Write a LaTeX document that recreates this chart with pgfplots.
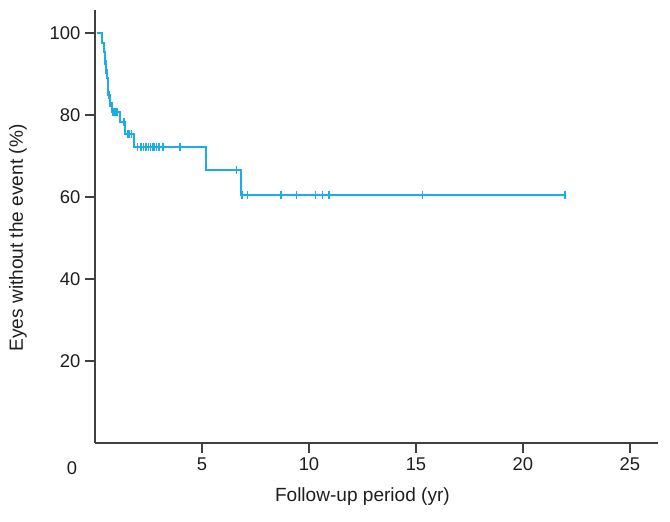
\documentclass[border=0pt]{standalone}
\usepackage{pgfplots}
\pgfplotsset{compat=1.18}
\usepackage{fontspec}
\setmainfont{Liberation Sans}
\definecolor{km}{RGB}{28,172,230}
\definecolor{txt}{RGB}{30,30,30}
\begin{document}
\begin{tikzpicture}
\useasboundingbox (-71.25pt,-58.5pt) rectangle (431.25pt,332.25pt);
\begin{axis}[
  at={(0,0)}, anchor=south west,
  scale only axis,
  width=422.25pt, height=324.75pt,
  xmin=0, xmax=26.31, ymin=0, ymax=105.6,
  axis lines=left,
  axis line style={-, draw=black!75, line width=1.3pt},
  tick style={draw=none},
  tick align=outside,
  major tick length=7.5pt,
  xtick={5,10,15,20,25},
  ytick={20,40,60,80,100},
  font=\fontsize{13.8}{16}\selectfont,
  /pgf/number format/assume math mode=true,
  tick label style={text=txt},
  xlabel={Follow-up period (yr)},
  ylabel={Eyes without the event (\%)},
  xlabel style={text=txt, font=\fontsize{14.3}{17}\selectfont, at={(axis description cs:0.475,0)}, anchor=center, yshift=-40.5pt},
  ylabel style={text=txt, font=\fontsize{14.3}{17}\selectfont, at={(axis description cs:0,0.4735)}, anchor=center, yshift=57.75pt},
  clip=false,
]
\addplot[km, line width=1.5pt, const plot mark left] coordinates {
(0.1,100) (0.33,97.6) (0.40,95.4) (0.45,93.1) (0.50,90.9) (0.56,88.9)
(0.60,86.8) (0.63,84.9) (0.68,83.0) (0.80,80.8) (1.15,78.4) (1.38,75.3)
(1.80,72.2) (5.17,66.5) (6.82,60.6) (22.0,60.6)
};
\addplot[km, only marks, mark=|, mark size=3pt, mark options={line width=1.2pt}] coordinates {
(0.47,93.1) (0.52,90.9) (0.61,86.8) (0.65,84.9) (0.70,83.0)
(0.85,80.8) (0.90,80.8) (0.95,80.8) (1.00,80.8) (1.05,80.8)
(1.35,78.4)
(1.55,75.3) (1.62,75.3) (1.70,75.3)
(1.98,72.2) (2.15,72.2) (2.26,72.2) (2.38,72.2) (2.50,72.2) (2.60,72.2)
(2.70,72.2) (2.76,72.2) (2.88,72.2) (3.00,72.2) (3.19,72.2) (3.97,72.2)
(6.62,66.5)
(6.87,60.6) (7.13,60.6) (8.69,60.6) (9.42,60.6) (10.31,60.6) (10.64,60.6)
(10.93,60.6) (15.31,60.6) (21.96,60.6)
};
\coordinate (x5) at (axis cs:5,0);
\coordinate (x10) at (axis cs:10,0);
\coordinate (x15) at (axis cs:15,0);
\coordinate (x20) at (axis cs:20,0);
\coordinate (x25) at (axis cs:25,0);
\coordinate (y20) at (axis cs:0,20);
\coordinate (y40) at (axis cs:0,40);
\coordinate (y60) at (axis cs:0,60);
\coordinate (y80) at (axis cs:0,80);
\coordinate (y100) at (axis cs:0,100);
\node[text=txt, font=\fontsize{13.8}{16}\selectfont] at ([xshift=-17.25pt, yshift=-18.75pt]rel axis cs:0,0) {0};
\end{axis}
\foreach \c in {x5,x10,x15,x20,x25}{
  \draw[black!75, line width=1.3pt] (\c) -- ([yshift=-7.5pt]\c);
}
\foreach \c in {y20,y40,y60,y80,y100}{
  \draw[black!75, line width=1.3pt] (\c) -- ([xshift=-7.5pt]\c);
}
\end{tikzpicture}
\end{document}
